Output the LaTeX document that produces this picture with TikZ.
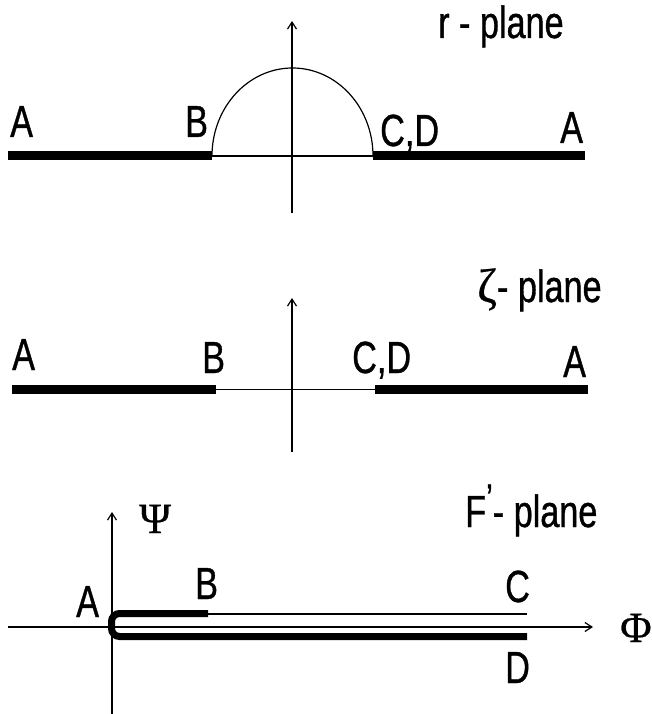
\documentclass[tikz,border=0pt]{standalone}
\usepackage{fontspec}
\setmainfont{Liberation Sans}[FakeStretch=0.76,FakeBold=0.8]
\newfontfamily\greekfont{Liberation Serif}[FakeBold=0.6]
\usetikzlibrary{arrows.meta}
\tikzset{
  lbl/.style={font=\fontsize{45}{50}\selectfont, inner sep=0pt, anchor=base west},
  glbl/.style={font=\greekfont\fontsize{43}{50}\selectfont, inner sep=0pt, anchor=base west},
  cutline/.style={line width=9pt},
  fcut/.style={line width=7pt},
  thinline/.style={line width=1.2pt},
  axis/.style={line width=1.2pt, -{Straight Barb[length=7pt,width=9pt]}},
}
\begin{document}
\begin{tikzpicture}[x=1pt,y=-1pt]
\useasboundingbox (0,0) rectangle (651,714);
% ---------- r-plane ----------
\coordinate (rL) at (8,156);
\coordinate (rB) at (212,156);
\coordinate (rC) at (373,156);
\coordinate (rR) at (585,156);
\coordinate (rY0) at (292,213);
\coordinate (rY1) at (292,21);
\draw[cutline] (rL) -- (rB);
\draw[thinline] (rB) -- (rC);
\draw[cutline] (rC) -- (rR);
\draw[thinline] (rB) arc[start angle=180, end angle=0, x radius=80.5pt, y radius=88pt];
\draw[axis] (rY0) -- (rY1);
\node[lbl] (rA1) at (10,137) {A};
\node[lbl] (rBl) at (185,137) {B};
\node[lbl] (rCD) at (380,146) {C,D};
\node[lbl] (rA2) at (560,143) {A};
\node[lbl] (rt) at (438,38) {r - plane};
% ---------- zeta-plane ----------
\coordinate (zL) at (12,389.5);
\coordinate (zB) at (216,389.5);
\coordinate (zC) at (375,389.5);
\coordinate (zR) at (588,389.5);
\coordinate (zY0) at (292,452);
\coordinate (zY1) at (292,298);
\draw[cutline] (zL) -- (zB);
\draw[thinline] (zB) -- (zC);
\draw[cutline] (zC) -- (zR);
\draw[axis] (zY0) -- (zY1);
\node[lbl] (zA1) at (12,370) {A};
\node[lbl] (zBl) at (202,373) {B};
\node[lbl] (zCD) at (352,373) {C,D};
\node[lbl] (zA2) at (563,377) {A};
\node[lbl] (zt) at (477,302) {{\greekfont\fontsize{48}{50}\selectfont ζ}- plane};
% ---------- F'-plane ----------
\coordinate (fY0) at (112,714);
\coordinate (fY1) at (112,512);
\coordinate (fX0) at (8,627);
\coordinate (fX1) at (593,627);
\coordinate (fB) at (208,613.5);
\coordinate (fC) at (527,614);
\coordinate (fD) at (527,636.5);
\draw[axis] (fY0) -- (fY1);
\draw[axis] (fX0) -- (fX1);
\draw[fcut, rounded corners=8pt] (fB) -- (111.5,613.5) -- (111.5,636.5) -- (fD);
\draw[line width=1.8pt] (fB |- fC) -- (fC);
\node[lbl] (fA) at (76,617) {A};
\node[lbl] (fBl) at (195,599) {B};
\node[lbl] (fCl) at (505,602) {C};
\node[lbl] (fDl) at (505,683) {D};
\node[glbl] (psi) at (139,533) {Ψ};
\node[glbl] (phi) at (620,642) {Φ};
\node[lbl] (ft) at (465,527) {F\raisebox{15pt}{\fontsize{40}{40}\selectfont\char"27}- plane};
\end{tikzpicture}
\end{document}
